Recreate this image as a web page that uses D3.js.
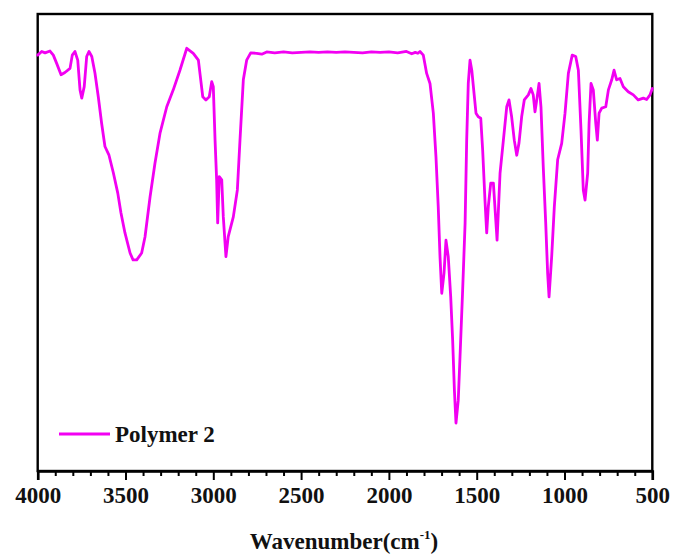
<!DOCTYPE html>
<html>
<head>
<meta charset="utf-8">
<script src="https://cdn.jsdelivr.net/npm/d3@7"></script>
<style>
  html, body { margin: 0; padding: 0; background: #fff; }
  svg { display: block; }
  text { font-family: "Liberation Serif", "Times New Roman", serif; font-weight: bold; fill: #111; }
</style>
</head>
<body>
<svg id="chart" width="673" height="554"></svg>
<script>
// Wavenumber (cm^-1)
const wavenumber = [
  4000, 3977, 3958, 3930, 3911, 3892, 3867, 3845, 3816, 3803, 3788, 3772, 3759, 3749, 3735, 3721,
  3708, 3692, 3674, 3655, 3636, 3617, 3594, 3569, 3544, 3526, 3503, 3474, 3457, 3436, 3408, 3389,
  3360, 3332, 3303, 3265, 3228, 3190, 3151, 3114, 3085, 3076, 3060, 3042, 3023, 3009, 3000, 2990,
  2981, 2975, 2966, 2952, 2943, 2928, 2915, 2886, 2863, 2848, 2829, 2810, 2787, 2753, 2724, 2696,
  2650, 2600, 2550, 2500, 2450, 2400, 2350, 2300, 2250, 2200, 2150, 2100, 2050, 2000, 1950, 1900,
  1870, 1850, 1835, 1823, 1804, 1785, 1766, 1747, 1732, 1719, 1709, 1699, 1686, 1675, 1662, 1648,
  1637, 1627, 1618, 1605, 1595, 1580, 1566, 1557, 1548, 1538, 1528, 1515, 1504, 1491, 1477, 1466,
  1453, 1443, 1434, 1420, 1405, 1394, 1384, 1367, 1348, 1329, 1316, 1301, 1286, 1272, 1259, 1244,
  1229, 1206, 1191, 1178, 1168, 1158, 1145, 1134, 1121, 1107, 1096, 1088, 1073, 1058, 1039, 1016,
  997, 978, 956, 936, 921, 906, 893, 883, 868, 860, 849, 836, 822, 813, 803, 788,
  765, 750, 731, 718, 703, 684, 665, 637, 608, 580, 551, 532, 513, 500
];
// Transmittance (%)
const transmittance = [
  91.0, 91.8, 91.5, 91.9, 91.0, 89.2, 86.7, 87.2, 88.1, 91.0, 91.8, 89.9, 83.4, 81.6, 84.1, 90.7,
  91.8, 90.7, 87.1, 81.9, 76.1, 71.0, 69.1, 65.2, 60.8, 56.5, 52.1, 47.7, 46.2, 46.2, 47.7, 51.2,
  60.0, 67.4, 74.0, 79.7, 83.4, 87.7, 92.5, 91.4, 89.9, 87.0, 81.9, 81.2, 81.9, 85.2, 84.1, 72.4,
  63.7, 54.3, 64.4, 63.7, 55.6, 46.9, 51.3, 55.6, 61.5, 72.4, 85.6, 89.9, 91.5, 91.4, 91.2, 91.7,
  91.5, 91.7, 91.5, 91.6, 91.7, 91.6, 91.7, 91.6, 91.7, 91.6, 91.5, 91.7, 91.6, 91.7, 91.5, 91.8,
  91.3, 91.6, 91.4, 91.8, 91.0, 87.0, 84.8, 78.3, 68.8, 57.8, 46.9, 38.9, 43.3, 50.5, 46.9, 38.1,
  28.7, 17.7, 10.5, 15.5, 25.0, 39.6, 54.3, 72.4, 84.8, 89.9, 87.7, 82.6, 78.3, 77.5, 77.2, 70.2,
  59.3, 52.1, 57.8, 63.0, 63.0, 56.5, 50.5, 65.2, 72.4, 79.7, 81.2, 77.5, 72.4, 69.1, 71.8, 77.5,
  81.2, 82.3, 83.7, 82.3, 78.6, 81.2, 84.8, 79.7, 66.6, 54.3, 43.3, 38.1, 46.9, 57.8, 68.1, 71.7,
  78.3, 87.0, 91.0, 90.7, 87.7, 74.6, 61.5, 59.3, 65.2, 76.1, 84.8, 83.4, 76.1, 72.4, 78.3, 79.4,
  79.7, 83.4, 85.6, 87.7, 85.6, 85.9, 84.1, 83.0, 82.3, 81.2, 81.6, 81.3, 82.3, 83.7
];
const majorTicks = [4000, 3500, 3000, 2500, 2000, 1500, 1000, 500];
const minorTicks = d3.range(500, 4001, 100).filter(v => v % 500 !== 0);
const seriesName = "Polymer 2";
const lineColor = "#f200f2";

(function draw() {
  const svg = d3.select("#chart");
  const pLeft = 37.7, pRight = 652.3, pTop = 14, pBottom = 471;

  const x = d3.scaleLinear().domain([4000, 500]).range([pLeft, pRight]);
  const y = d3.scaleLinear().domain([0, 100]).range([pBottom, pTop]);

  const data = wavenumber.map((w, i) => ({ w, t: transmittance[i] }));

  // frame
  svg.append("rect")
    .attr("x", pLeft).attr("y", pTop)
    .attr("width", pRight - pLeft).attr("height", pBottom - pTop)
    .attr("fill", "none").attr("stroke", "#000").attr("stroke-width", 2.4);

  // spectrum line
  svg.append("path")
    .datum(data)
    .attr("fill", "none")
    .attr("stroke", lineColor)
    .attr("stroke-width", 2.8)
    .attr("stroke-linejoin", "round")
    .attr("stroke-linecap", "round")
    .attr("d", d3.line().x(d => x(d.w)).y(d => y(d.t)));

  // minor ticks
  const minorAxis = svg.append("g")
    .attr("transform", `translate(0,${pBottom})`)
    .call(d3.axisBottom(x).tickValues(minorTicks).tickSize(5).tickFormat(""));
  minorAxis.select(".domain").remove();
  minorAxis.selectAll("line").attr("stroke", "#000").attr("stroke-width", 2);

  // major ticks
  const majorAxis = svg.append("g")
    .attr("transform", `translate(0,${pBottom})`)
    .call(d3.axisBottom(x).tickValues(majorTicks).tickSize(9).tickPadding(7).tickFormat(d3.format("d")));
  majorAxis.select(".domain").attr("stroke", "#000").attr("stroke-width", 2.6);
  majorAxis.selectAll("line").attr("stroke", "#000").attr("stroke-width", 2);
  majorAxis.selectAll("text")
    .attr("font-size", 23)
    .attr("font-family", "'Liberation Serif', 'Times New Roman', serif")
    .attr("font-weight", "bold")
    .attr("fill", "#111");

  // axis title
  const title = svg.append("text")
    .attr("x", 344).attr("y", 549)
    .attr("text-anchor", "middle")
    .attr("font-size", 23);
  title.append("tspan").text("Wavenumber(cm");
  title.append("tspan").attr("font-size", 13).attr("dy", -10).text("-1");
  title.append("tspan").attr("dy", 10).text(")");

  // legend
  svg.append("line")
    .attr("x1", 59).attr("x2", 110).attr("y1", 434).attr("y2", 434)
    .attr("stroke", lineColor).attr("stroke-width", 2.8);
  svg.append("text")
    .attr("x", 115).attr("y", 442)
    .attr("font-size", 23)
    .text(seriesName);
})();
</script>
</body>
</html>
